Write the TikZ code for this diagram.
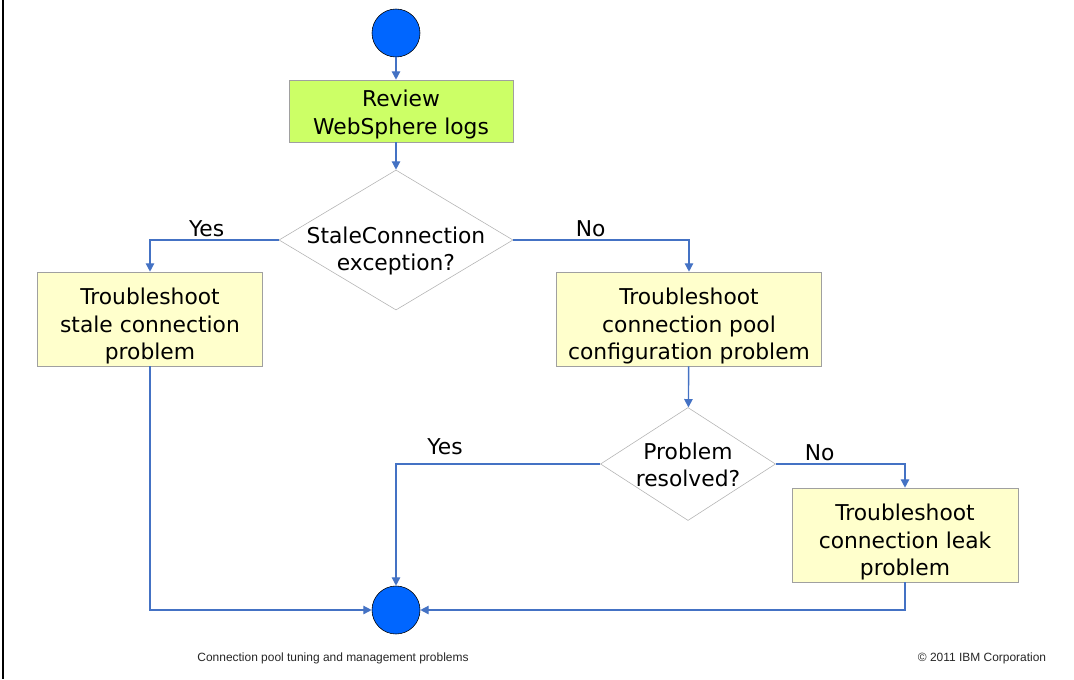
\documentclass[tikz,border=0pt]{standalone}
\usepackage{fontspec}
\setmainfont{DejaVu Sans}
\newfontfamily\footfont{Liberation Sans}
\usetikzlibrary{shapes.geometric,arrows.meta}

\definecolor{ibmblue}{RGB}{0,102,255}
\definecolor{flowline}{RGB}{68,114,196}
\definecolor{boxgreen}{RGB}{204,255,102}
\definecolor{boxyellow}{RGB}{255,255,204}
\definecolor{boxborder}{RGB}{160,160,160}

\begin{document}
\begin{tikzpicture}[x=0.025cm, y=-0.025cm,
    every node/.style={font=\fontsize{15.5}{19.5}\selectfont},
    terminal/.style={circle, draw=black, fill=ibmblue, minimum size=1.2cm, inner sep=0pt},
    task/.style={rectangle, draw=boxborder, fill=boxyellow, align=center, minimum height=2.35cm, inner sep=0pt,
        text height=61pt},
    decision/.style={diamond, draw=boxborder!80, fill=white, inner sep=0pt},
    question/.style={align=center, inner sep=0pt},
    flow/.style={draw=flowline, line width=1pt, -{Triangle[length=6pt,width=6pt]}},
    lbl/.style={inner sep=2pt},
    foot/.style={font=\footfont\fontsize{8.5}{10}\selectfont, text=black!85}]
    \useasboundingbox (0,0) rectangle (1074,679);
    \draw[line width=2pt] (3,0) -- (3,679);

    % Start and review
    \node[terminal] (start) at (396,33) {};
    \node[task, fill=boxgreen, minimum width=5.6cm, minimum height=1.55cm, text height=36pt] (review) at (401,111) {Review\\WebSphere logs};

    % First decision
    \node[decision, minimum width=5.85cm, minimum height=3.5cm] (stale) at (396,240) {};
    \node[question] (staletext) at (396,251) {StaleConnection\\exception?};
    \node[task, minimum width=5.625cm] (stalebox) at (150,319) {Troubleshoot\\stale connection\\problem};
    \node[task, minimum width=6.625cm] (pool) at (689,319) {Troubleshoot\\connection pool\\configuration problem};

    % Second decision
    \node[decision, minimum width=4.375cm, minimum height=2.825cm] (resolved) at (688,464) {};
    \node[question] (resolvedtext) at (688,465) {Problem\\resolved?};
    \node[task, minimum width=5.65cm] (leak) at (905,535) {Troubleshoot\\connection leak\\problem};

    % End
    \node[terminal] (end) at (396,610) {};

    % Connectors
    \draw[flow] (start) -- (start |- review.north);
    \draw[flow] (stale |- review.south) -- (stale);
    \draw[flow] (stale.west) -| node[pos=0.28, above, lbl] (yes1) {Yes} (stalebox);
    \draw[flow] (stale.east) -| node[pos=0.22, above, lbl] (no1) {No} (pool);
    \draw[flow] (pool) -- (resolved);
    \draw[flow] (resolved.west) -| node[pos=0.38, above, lbl, yshift=4pt] (yes2) {Yes} (end);
    \draw[flow] (resolved.east) -| node[pos=0.17, above, lbl] (no2) {No} (leak);
    \draw[flow] (stalebox) |- (end);
    \draw[flow] (leak) |- (end);

    % Footer
    \node[foot] (title) at (333,658) {Connection pool tuning and management problems};
    \node[foot] (copy) at (982,658) {© 2011 IBM Corporation};
\end{tikzpicture}
\end{document}
